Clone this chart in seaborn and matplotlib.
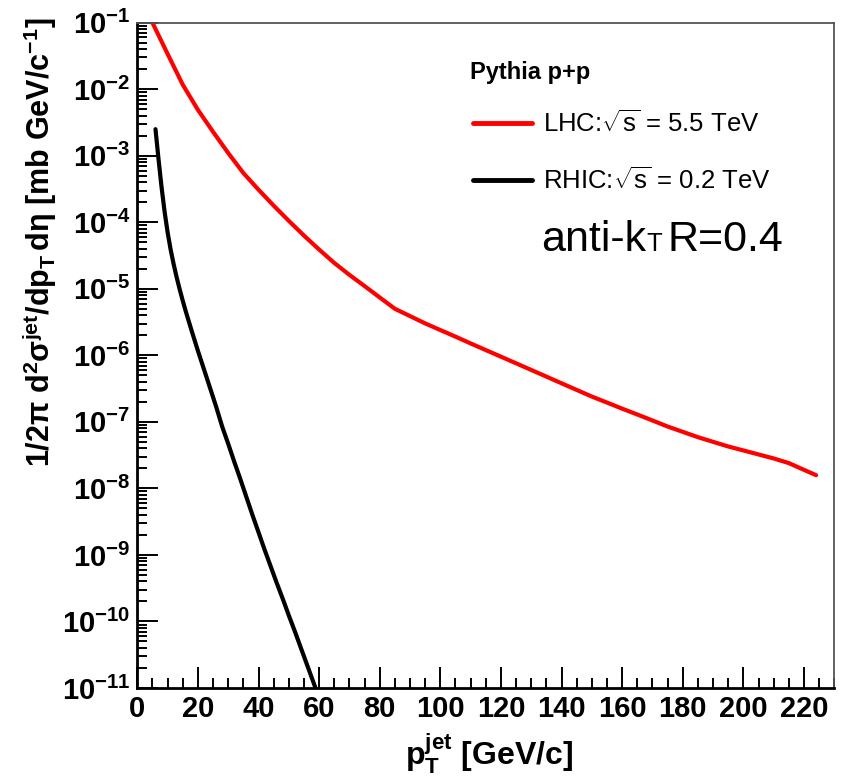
import matplotlib
matplotlib.use("Agg")
import numpy as np
import pandas as pd
import matplotlib.pyplot as plt
import seaborn as sns
from matplotlib.ticker import LogLocator, MultipleLocator, NullFormatter

# Pythia p+p inclusive jet spectra (anti-kT, R=0.4)
lhc_pt = [5, 10, 15, 20, 25, 30, 35, 40, 45, 50, 55, 60, 65, 70, 75, 80, 85, 90, 95,
          100, 105, 110, 115, 120, 125, 130, 135, 140, 145, 150, 155, 160, 165, 170,
          175, 180, 185, 190, 195, 200, 205, 210, 215, 220, 224]
lhc_xsec = [1.0e-1, 3.39e-2, 1.17e-2, 4.90e-3, 2.29e-3, 1.10e-3, 5.50e-4, 3.09e-4,
            1.78e-4, 1.05e-4, 6.31e-5, 3.89e-5, 2.45e-5, 1.62e-5, 1.10e-5, 7.41e-6,
            5.01e-6, 3.89e-6, 3.02e-6, 2.40e-6, 1.91e-6, 1.51e-6, 1.20e-6, 9.55e-7,
            7.59e-7, 6.03e-7, 4.79e-7, 3.80e-7, 3.02e-7, 2.40e-7, 1.95e-7, 1.58e-7,
            1.29e-7, 1.05e-7, 8.51e-8, 7.08e-8, 5.89e-8, 5.01e-8, 4.27e-8, 3.72e-8,
            3.24e-8, 2.82e-8, 2.40e-8, 1.90e-8, 1.58e-8]

rhic_pt = [6, 7, 8, 9, 10, 11, 12, 13, 14, 15, 16, 18, 20, 22, 24, 26, 28, 30, 32, 34,
           36, 38, 40, 42, 44, 46, 48, 50, 52, 54, 56, 58, 60]
rhic_xsec = [2.51e-3, 8.91e-4, 3.39e-4, 1.45e-4, 7.08e-5, 3.89e-5, 2.34e-5, 1.48e-5,
             9.77e-6, 6.61e-6, 4.57e-6, 2.29e-6, 1.17e-6, 6.17e-7, 3.24e-7, 1.70e-7,
             8.51e-8, 4.68e-8, 2.51e-8, 1.38e-8, 7.41e-9, 3.98e-9, 2.19e-9, 1.20e-9,
             6.76e-10, 3.80e-10, 2.19e-10, 1.23e-10, 7.08e-11, 3.98e-11, 2.24e-11,
             1.26e-11, 7.08e-12]

lhc_label = r"LHC:$\sqrt{\mathrm{s}}$ = 5.5 TeV"
rhic_label = r"RHIC:$\sqrt{\mathrm{s}}$ = 0.2 TeV"

df = pd.concat([
    pd.DataFrame({"pt": lhc_pt, "xsec": lhc_xsec, "sample": lhc_label}),
    pd.DataFrame({"pt": rhic_pt, "xsec": rhic_xsec, "sample": rhic_label}),
])

sns.set_theme(style="ticks")
plt.rcParams["font.family"] = ["Liberation Sans", "DejaVu Sans"]
plt.rcParams["mathtext.fontset"] = "custom"
plt.rcParams["mathtext.rm"] = "Liberation Sans"
plt.rcParams["mathtext.it"] = "Liberation Sans:italic"
plt.rcParams["mathtext.bf"] = "Liberation Sans:bold"
plt.rcParams["mathtext.sf"] = "Liberation Sans"
plt.rcParams["axes.unicode_minus"] = False
for key in ("text.color", "axes.labelcolor", "xtick.color", "ytick.color"):
    plt.rcParams[key] = "black"

W, H = 847, 782
fig = plt.figure(figsize=(W / 100, H / 100), dpi=100)
x0, x1, y0, y1 = 137.3, 834.3, 22.7, 688.0
ax = fig.add_axes([x0 / W, 1 - y1 / H, (x1 - x0) / W, (y1 - y0) / H])

sns.lineplot(data=df, x="pt", y="xsec", hue="sample",
             palette={lhc_label: "#ff0000", rhic_label: "#000000"},
             linewidth=3.0, ax=ax, sort=False, estimator=None)

ax.set_yscale("log")
ax.set_xlim(0, 230)
ax.set_ylim(1e-11, 1e-1)

ax.xaxis.set_major_locator(MultipleLocator(20))
ax.xaxis.set_minor_locator(MultipleLocator(5))
ax.yaxis.set_minor_locator(LogLocator(base=10, subs=np.arange(2, 10), numticks=20))
ax.yaxis.set_minor_formatter(NullFormatter())
decades = list(range(-11, 0))
ax.set_yticks([10.0 ** e for e in decades])
ax.set_yticklabels([r"$\mathbf{10^{%d}}$" % e for e in decades])

ax.tick_params(which="both", direction="in", top=False, right=False, width=1.4,
               color="black")
ax.tick_params(which="major", length=15, labelsize=21, pad=5)
ax.tick_params(which="minor", length=7.5)
for lab in ax.get_xticklabels() + ax.get_yticklabels():
    lab.set_fontweight("bold")

for side in ("left", "bottom"):
    ax.spines[side].set_linewidth(2.0)
    ax.spines[side].set_color("black")
for side in ("top", "right"):
    ax.spines[side].set_linewidth(1.3)
    ax.spines[side].set_color("#555555")

ax.set_xlabel("")
ax.set_ylabel("")

fig.text(40 / W, 1 - 18 / H,
         r"$\mathbf{1/2\pi\ d^{2}\sigma^{jet}/dp_{T}\,d\eta\ [mb\ GeV/c^{-1}]}$",
         rotation=90, ha="center", va="top", fontsize=22)
fig.text(489 / W, 1 - 754 / H, r"$\mathbf{p_{T}^{jet}\ [GeV/c]}$",
         ha="center", va="center", fontsize=23)

# legend header and entries
fig.text(470 / W, 1 - 72 / H, "Pythia p+p", fontsize=17, fontweight="bold",
         ha="left", va="center")
leg = ax.legend(loc="upper left",
                bbox_to_anchor=(463 / W, 1 - 100 / H), bbox_transform=fig.transFigure,
                frameon=False, fontsize=18.5, handlelength=2.3, handletextpad=0.43,
                labelspacing=1.18, borderaxespad=0)
for line in leg.get_lines():
    line.set_linewidth(3.5)

# jet algorithm note, with a small-capital T
renderer = fig.canvas.get_renderer()
t1 = fig.text(541 / W, 1 - 251 / H, "anti-k", fontsize=31, ha="left", va="baseline")
bb = t1.get_window_extent(renderer)
t2 = fig.text(bb.x1 / W, 1 - 251 / H, "T", fontsize=18.5, ha="left", va="baseline")
bb2 = t2.get_window_extent(renderer)
fig.text(bb2.x1 / W + 6 / W, 1 - 251 / H, "R=0.4", fontsize=31, ha="left", va="baseline")

fig.savefig("out.png", dpi=100)
